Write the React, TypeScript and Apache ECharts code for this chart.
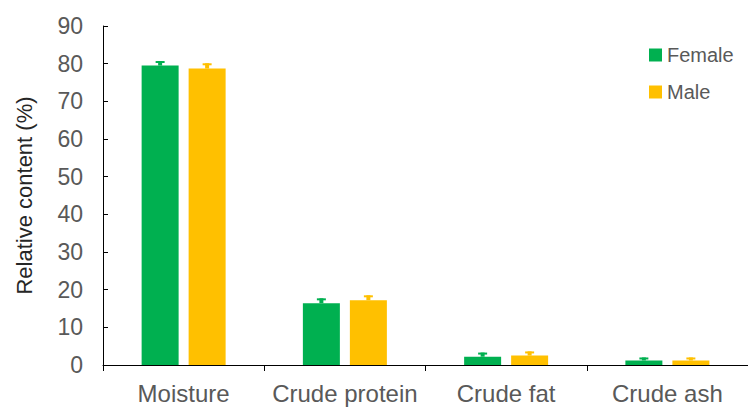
import React, { useEffect, useRef } from "react";
import * as echarts from "echarts";

const categories = ["Moisture", "Crude protein", "Crude fat", "Crude ash"];
const femaleValues = [79.5, 16.4, 2.2, 1.2];
const femaleErrors = [1.2, 1.3, 1.1, 0.8];
const maleValues = [78.7, 17.2, 2.5, 1.2];
const maleErrors = [1.4, 1.3, 1.1, 0.8];
const seriesNames = ["Female", "Male"];
const colors = ["#00B050", "#FFC000"];

const BAR_W = 37;
const BAR_GAP = 10;

function errorSeries(values: number[], errors: number[], color: string, side: number) {
  return {
    type: "custom",
    silent: true,
    z: 5,
    data: values.map((v, i) => [i, v, v + errors[i]]),
    renderItem: (params: any, api: any) => {
      const idx = api.value(0);
      const lo = api.coord([idx, api.value(1)]);
      const hi = api.coord([idx, api.value(2)]);
      const x = lo[0] + side * (BAR_W + BAR_GAP) / 2;
      return {
        type: "group",
        children: [
          {
            type: "line",
            shape: { x1: x, y1: lo[1], x2: x, y2: hi[1] },
            style: { stroke: color, lineWidth: 4 },
          },
          {
            type: "line",
            shape: { x1: x - 4.5, y1: hi[1] + 1, x2: x + 4.5, y2: hi[1] + 1 },
            style: { stroke: color, lineWidth: 2 },
          },
        ],
      };
    },
  };
}

export default function App() {
  const ref = useRef<HTMLDivElement>(null);
  useEffect(() => {
    if (!ref.current) return;
    const chart = echarts.init(ref.current, null, { renderer: "svg" });
    const font = "'Liberation Sans', Arial, sans-serif";
    chart.setOption({
      animation: false,
      textStyle: { fontFamily: font },
      grid: { left: 103, top: 26, width: 650, bottom: 43, containLabel: false },
      legend: {
        orient: "vertical",
        left: 644,
        top: 40,
        itemWidth: 13,
        itemHeight: 13,
        itemGap: 17,
        icon: "rect",
        data: seriesNames,
        textStyle: { fontSize: 20, color: "#595959", fontFamily: font },
      },
      xAxis: {
        type: "category",
        data: categories,
        axisLine: { lineStyle: { color: "#000", width: 1 } },
        axisTick: { show: true, length: 6, alignWithLabel: false, lineStyle: { color: "#000" } },
        axisLabel: { interval: 0, fontSize: 24, color: "#595959", margin: 16, fontFamily: font },
      },
      yAxis: {
        type: "value",
        min: 0,
        max: 90,
        interval: 10,
        name: "Relative content (%)",
        nameLocation: "middle",
        nameGap: 68,
        nameTextStyle: { fontSize: 22, color: "#262626", fontFamily: font },
        axisLine: { show: true, lineStyle: { color: "#000", width: 1 } },
        axisTick: { show: true, inside: true, length: 5, lineStyle: { color: "#000" } },
        axisLabel: { fontSize: 23, color: "#595959", margin: 20, fontFamily: font },
        splitLine: { show: false },
      },
      series: [
        {
          name: seriesNames[0],
          type: "bar",
          data: femaleValues,
          barWidth: BAR_W,
          barGap: (BAR_GAP / BAR_W) * 100 + "%",
          itemStyle: { color: colors[0] },
        },
        {
          name: seriesNames[1],
          type: "bar",
          data: maleValues,
          barWidth: BAR_W,
          barGap: (BAR_GAP / BAR_W) * 100 + "%",
          itemStyle: { color: colors[1] },
        },
        errorSeries(femaleValues, femaleErrors, colors[0], -1),
        errorSeries(maleValues, maleErrors, colors[1], 1),
      ],
    });
    return () => chart.dispose();
  }, []);
  return <div ref={ref} style={{ width: 748, height: 408, position: "absolute", left: 0, top: 0 }} />;
}
